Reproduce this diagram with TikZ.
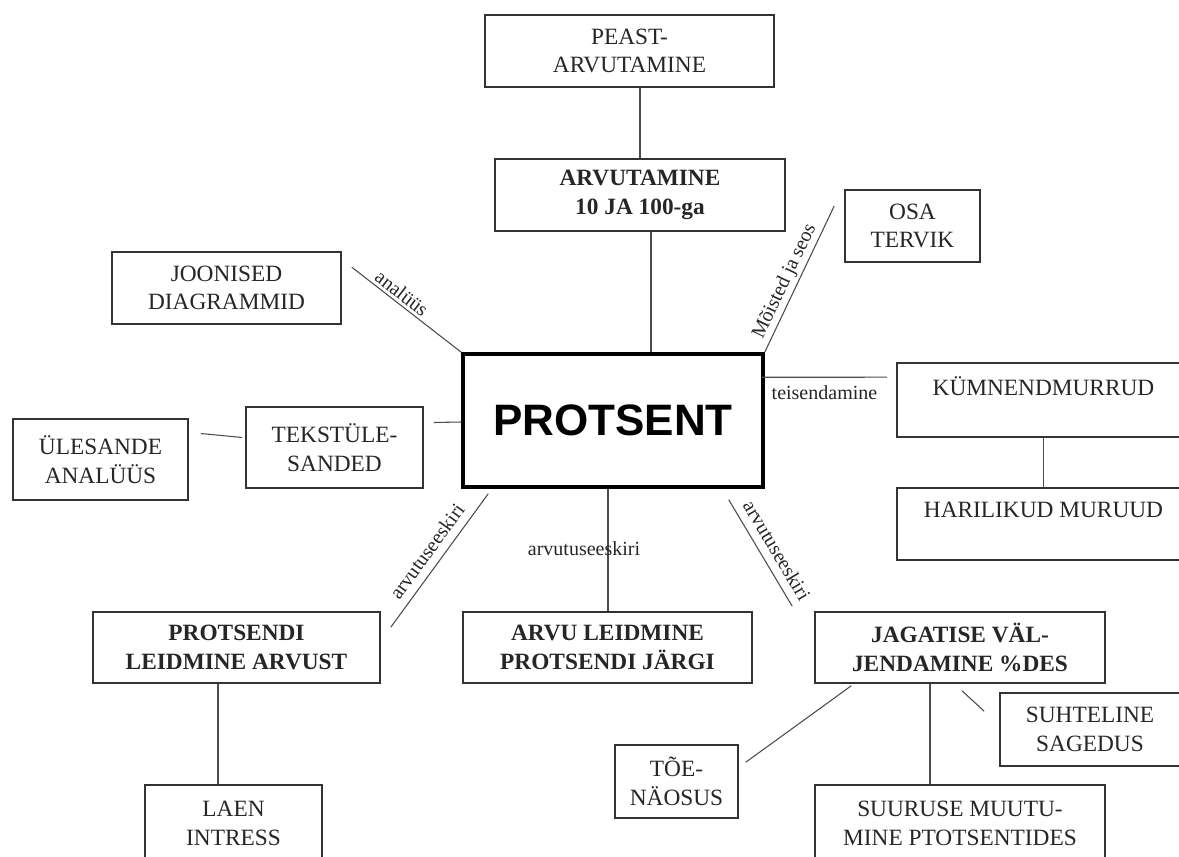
\documentclass[tikz,border=0pt]{standalone}
\usepackage{fontspec}
\setmainfont{Liberation Serif}
\newfontfamily\kirjasans{Liberation Sans}
\usetikzlibrary{calc}
\tikzset{
  kast/.style={draw=black!80, line width=1.2pt, align=center, inner sep=0pt, text=black!85, font=\fontsize{17.5}{21.5}\selectfont},
  kastb/.style={kast, font=\fontsize{17.5}{21.5}\selectfont\bfseries},
  joon/.style={draw=black!70, line width=0.8pt},
  silt/.style={font=\fontsize{15}{18}\selectfont, text=black!85, inner sep=1pt},
}

\begin{document}
\begin{tikzpicture}[x=0.75pt, y=-0.75pt]
    \clip (0,0) rectangle (1179,857);
    \fill[white] (0,0) rectangle (1179,857);

    % kesk
    \node[kast, draw=black, text=black, line width=2.6pt, minimum width=225pt, minimum height=99.75pt,
      font=\kirjasans\fontsize{33}{36}\selectfont\bfseries] (prots) at (613,420.5) {PROTSENT};

    % ylemine haru
    \node[kast, minimum width=216.75pt, minimum height=54pt] (peast) at (629.5,51) {PEAST-\\ARVUTAMINE};
    \node[kastb, minimum width=217.5pt, minimum height=54pt] (arv10) at (640,195) {ARVUTAMINE\\10 JA 100-ga};
    \node[kast, minimum width=171.75pt, minimum height=54pt] (jooni) at (226.5,288) {JOONISED\\DIAGRAMMID};
    \node[kast, minimum width=101.25pt, minimum height=54pt] (osa) at (912.5,226) {OSA\\TERVIK};

    % paremal
    \node[kast, minimum width=219.75pt, minimum height=55.5pt] (kymn) at (1043.5,400) {KÜMNENDMURRUD\\\mbox{}};
    \node[kast, minimum width=219.75pt, minimum height=54pt] (haril) at (1043.5,524) {HARILIKUD MURUUD\\\mbox{}};

    % vasakul
    \node[kast, minimum width=132.75pt, minimum height=60.75pt] (tekst) at (334.5,447.5) {TEKSTÜLE-\\SANDED};
    \node[kast, minimum width=131.25pt, minimum height=60.75pt] (yles) at (100.5,459.5) {ÜLESANDE\\ANALÜÜS};

    % alumine rida
    \node[kastb, minimum width=215.25pt, minimum height=53.25pt] (protsL) at (236.5,647.5) {PROTSENDI\\LEIDMINE ARVUST};
    \node[kastb, minimum width=216.75pt, minimum height=53.25pt] (arvuL) at (607.5,647.5) {ARVU LEIDMINE\\PROTSENDI JÄRGI};
    \node[kastb, minimum width=217.5pt, minimum height=53.25pt] (jagat) at (960,647.5) {JAGATISE VÄL-\\JENDAMINE \%DES};

    \node[kast, minimum width=132.75pt, minimum height=57.75pt] (laen) at (233.5,823.5) {LAEN\\INTRESS};
    \node[kast, minimum width=92.25pt, minimum height=54.75pt] (toe) at (676.5,781.5) {TÕE-\\NÄOSUS};
    \node[kast, minimum width=217.5pt, minimum height=57.75pt] (suurus) at (960,823.5) {SUURUSE MUUTU-\\MINE PTOTSENTIDES};
    \node[kast, minimum width=135pt, minimum height=54.75pt] (suhte) at (1090,729.5) {SUHTELINE\\SAGEDUS};

    % jooned
    \draw[joon] ($(peast.south)+(10.5,0)$) -- (arv10.north);
    \draw[joon] ($(arv10.south)+(11,0)$) -- ($(prots.north)+(38,0)$);
    \draw[joon] ($(jooni.north east)+(10,16)$) -- node[silt, sloped, above=1pt, pos=0.4]{analüüs} (prots.north west);
    \draw[joon] (prots.north east) -- node[silt, sloped, above=1pt, pos=0.45]{Mõisted ja seos} ($(osa.west)+(-10,-20)$);
    \draw[joon] ($(prots.north east)+(-3,25)$) -- node[silt, below=5pt]{teisendamine} ($(kymn.north west)+(-9,15)$);
    \draw[joon] (kymn.south) -- (haril.north);
    \draw[joon] ($(tekst.east)+(10,-25)$) -- ($(prots.west)+(0,1.5)$);
    \draw[joon] ($(yles.east)+(12,-26)$) -- ($(tekst.west)+(-3,-10)$);
    \draw[joon] ($(protsL.north east)+(10,16)$) -- node[silt, sloped, above=5pt]{arvutuseeskiri} ($(prots.south west)+(27,5)$);
    \draw[joon] ($(prots.south)+(-5,0)$) -- node[silt, pos=0.49, xshift=-18pt]{arvutuseeskiri} ($(arvuL.north)+(0.5,0)$);
    \draw[joon] ($(prots.south east)+(-36,11)$) -- node[silt, sloped, above=5pt, pos=0.55]{arvutuseeskiri} ($(jagat.north west)+(-22,-5)$);
    \draw[joon] ($(protsL.south)+(-18.5,0)$) -- ($(laen.north)+(-15.5,0)$);
    \draw[joon] ($(jagat.south)+(-30,0)$) -- ($(suurus.north)+(-30,0)$);
    \draw[joon] ($(jagat.south west)+(37,2)$) -- ($(toe.north east)+(7,18)$);
    \draw[joon] ($(jagat.south)+(2,7)$) -- ($(suhte.north west)+(-15,19)$);
\end{tikzpicture}
\end{document}
